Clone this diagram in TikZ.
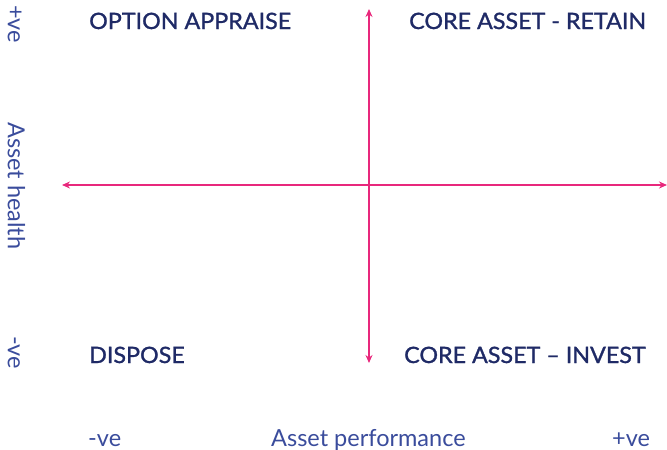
\documentclass[tikz,border=0pt]{standalone}
\usepackage{fontspec}
\setmainfont{Lato}
\usetikzlibrary{arrows.meta}
\definecolor{navy}{HTML}{1F2A66}
\definecolor{axisblue}{HTML}{3A4C9C}
\definecolor{pinkline}{HTML}{E8287C}
\begin{document}
\begin{tikzpicture}[x=1pt,y=-1pt,
  quad/.style={font=\fontsize{22.5}{22.5}\selectfont\addfontfeature{FakeBold=1.2,FakeStretch=1.035}, text=navy, inner sep=0pt, anchor=base west},
  axlab/.style={font=\fontsize{23.5}{23.5}\selectfont, text=axisblue, inner sep=0pt, anchor=base west},
  axline/.style={draw=pinkline, line width=1.9pt, -{Stealth[length=8pt,width=7pt]}}]
\useasboundingbox (0,0) rectangle (667,450);
\coordinate (c) at (369,185);
\coordinate (l) at (62,185);
\coordinate (r) at (667,185);
\coordinate (t) at (369,9);
\coordinate (b) at (369,363);
\draw[axline] (c) -- (l);
\draw[axline] (c) -- (r);
\draw[axline] (c) -- (t);
\draw[axline] (c) -- (b);
\node[quad] (oa) at (89,29) {OPTION APPRAISE};
\node[quad] (cr) at (409,29) {CORE ASSET - RETAIN};
\node[quad] (dp) at (89,363) {DISPOSE};
\node[quad] (ci) at (404,363) {CORE ASSET – INVEST};
\node[axlab] (xm) at (88,446) {-ve};
\node[axlab] (xt) at (271,446) {Asset performance};
\node[axlab] (xp) at (612,446) {+ve};
\node[axlab, rotate=-90] (yp) at (8,5) {+ve};
\node[axlab, rotate=-90] (yt) at (8,122) {Asset health};
\node[axlab, rotate=-90] (ym) at (8,336) {-ve};
\end{tikzpicture}
\end{document}
